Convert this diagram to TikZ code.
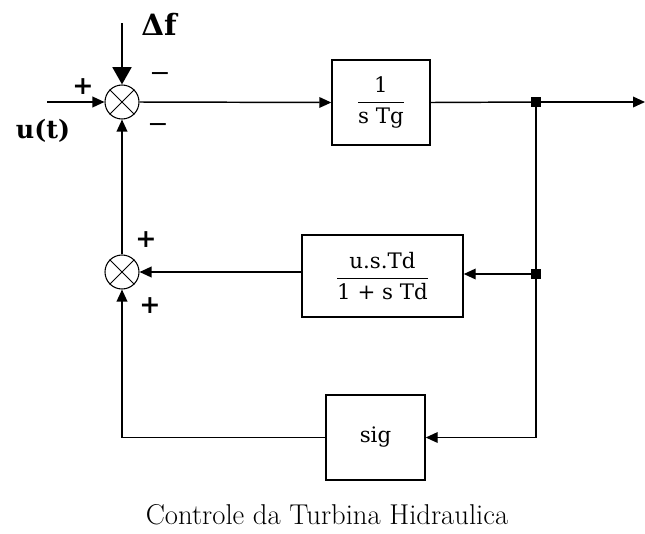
\documentclass[tikz,border=0pt]{standalone}
\usepackage{amsmath}
\usepackage{fontspec}
\setmainfont{DejaVu Serif}
\newfontfamily\lmfont{Latin Modern Roman}
\usetikzlibrary{arrows.meta}
\begin{document}
\begin{tikzpicture}[x=0.75pt,y=-0.75pt,
  line width=1.1pt,
  tip/.style={-{Triangle[length=9pt,width=8pt]}},
  bigtip/.style={-{Triangle[length=13pt,width=14pt]}, line width=2.2pt},
  blk/.style={draw,line width=1.1pt,inner sep=0pt},
  sumnode/.style={draw,circle,minimum size=25.5pt,inner sep=0pt,line width=0.8pt},
  junc/.style={fill,inner sep=0pt,minimum size=7pt},
  lbl/.style={font=\fontsize{16}{18}\selectfont},
  sgn/.style={font=\fontsize{19}{21}\selectfont\bfseries},
  msgn/.style={font=\fontsize{19}{21}\selectfont},
  big/.style={font=\fontsize{19}{21}\selectfont\bfseries},
  bigger/.style={font=\fontsize{22}{24}\selectfont\bfseries},
  captxt/.style={font=\lmfont\fontsize{21.5}{24}\selectfont},
  ]
\useasboundingbox (0,0) rectangle (645,533);

% summing junctions
\node[sumnode] (s1) at (122,102) {};
\node[sumnode] (s2) at (122,272) {};
\foreach \s in {s1,s2}{
  \draw[line width=0.6pt] (\s.north east) -- (\s.south west) (\s.north west) -- (\s.south east);
}

% blocks
\node[blk,minimum width=73.5pt,minimum height=63.75pt,lbl] (b1) at (381,102.5)
  {$\dfrac{\text{1}}{\text{s Tg}}$};
\node[blk,minimum width=120.75pt,minimum height=61.5pt,lbl] (b2) at (382.5,276)
  {$\dfrac{\text{u.s.Td}}{\text{1 + s Td}}$};
\node[blk,minimum width=74.25pt,minimum height=63.75pt,lbl] (b3) at (375.5,437.5) {sig};

% junction points and corners
\node[junc] (j1) at (536,102) {};
\node[junc] (j2) at (536,274) {};
\coordinate (c3) at (536,437.5);
\coordinate (c4) at (122,437.5);
\coordinate (in) at (47,102);
\coordinate (out) at (645,102);
\coordinate (df) at (122,23);

% connectors
\draw[tip] (in) -- (s1.west);
\draw[bigtip] (df) -- (s1.north);
\draw[tip] (s1.east) -- (b1.west);
\draw (b1.east) -- (j1.center);
\draw[tip] (j1.center) -- (out);
\draw (j1.center) -- (j2.center) -- (c3);
\draw[tip] (j2.center) -- (b2.east |- j2);
\draw[tip] (b2.west |- s2) -- (s2.east);
\draw[tip] (c3) -- (b3.east);
\draw[tip] (b3.west) -- (c4) -- (s2.south);
\draw[tip] (s2.north) -- (s1.south);

% labels
\node[bigger] (ldf) at (159,24) {Δf};
\node[big] (lu) at (43,131) {u(t)};
\node[sgn] (p1) at (83,87) {+};
\node[msgn] (m1) at (160,77) {−};
\node[msgn] (m2) at (158,128) {−};
\node[sgn] (p2) at (146,240) {+};
\node[sgn] (p3) at (150,306) {+};

% caption
\node[captxt] (caption) at (327,515) {Controle da Turbina Hidraulica};
\end{tikzpicture}
\end{document}
